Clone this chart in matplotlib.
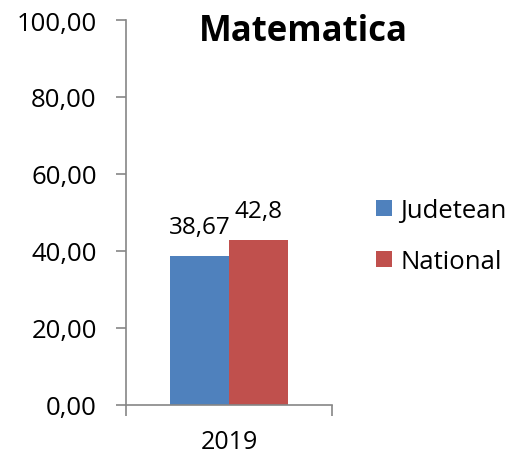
import matplotlib.pyplot as plt
from matplotlib.ticker import FuncFormatter

# date
categorii = ['2019']
serii = ['Judetean', 'National']
valori = [38.67, 42.8]
etichete = ['38,67', '42,8']
culori = ['#4F81BD', '#C0504D']

plt.rcParams['font.family'] = ['Open Sans', 'DejaVu Sans']

fig = plt.figure(figsize=(5.18, 4.56), dpi=100)
ax = fig.add_axes([126 / 518, 1 - 406 / 456, 206 / 518, 385 / 456])

w = 0.286
for i, (nume, v, et, c) in enumerate(zip(serii, valori, etichete, culori)):
    x = (i - 0.5) * w
    ax.bar(x, v, width=w, color=c, label=nume)
    ax.text(x, v + 4.5, et, ha='center', va='bottom', fontsize=17.5)

ax.set_xlim(-0.5, 0.5)
ax.set_ylim(0, 100)
ax.set_yticks(range(0, 101, 20))
ax.yaxis.set_major_formatter(FuncFormatter(lambda v, p: f'{v:.2f}'.replace('.', ',')))
ax.set_xticks([0])
ax.set_xticklabels(categorii)
ax.set_xticks([-0.5, 0.5], minor=True)
ax.tick_params(axis='x', which='major', length=0, pad=17, labelsize=18)
ax.tick_params(axis='x', which='minor', length=8, color='#868686', width=1.2)
ax.tick_params(axis='y', length=7, color='#868686', width=1.2, labelsize=18.5, pad=14)

for s in ['top', 'right']:
    ax.spines[s].set_visible(False)
for s in ['left', 'bottom']:
    ax.spines[s].set_color('#868686')
    ax.spines[s].set_linewidth(1.2)

fig.text(303 / 518, 1 - 32 / 456, 'Matematica', ha='center', va='center',
         fontsize=25, fontweight='bold')

fig.legend(loc='center left', bbox_to_anchor=(353 / 518, 1 - 237 / 456),
           frameon=False, fontsize=18.5, handlelength=0.6, handleheight=0.6,
           labelspacing=1.0, handletextpad=0.35)

plt.savefig('out.png', dpi=100)
